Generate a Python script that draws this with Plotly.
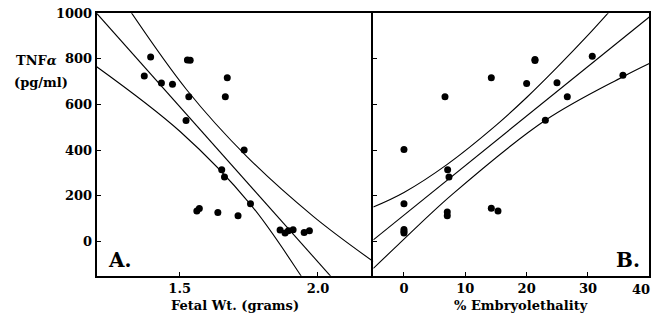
import plotly.graph_objects as go

# ---- Panel A data: fetal weight vs TNFa ----
fetal_wt = [1.372, 1.395, 1.434, 1.474, 1.528, 1.538, 1.533, 1.523, 1.672, 1.665,
            1.733, 1.652, 1.662, 1.756, 1.562, 1.571, 1.638, 1.711, 1.863, 1.881,
            1.893, 1.910, 1.950, 1.969]
tnf_a = [725, 809, 695, 689, 795, 794, 634, 530, 718, 634,
         401, 314, 283, 165, 134, 145, 127, 113, 50, 37,
         47, 51, 39, 47]

# regression line and 95% bands
mid_a_x = [1.2, 2.1]
mid_a_y = [1000, -226]
upper_a_x = [1.30, 1.526, 1.743, 1.984, 2.2]
upper_a_y = [1048, 664, 372, 109, -88]
lower_a_x = [1.2, 1.5015, 1.755, 1.936, 2.0]
lower_a_y = [766, 482, 164, -146, -270]

# ---- Panel B data: % embryolethality vs TNFa ----
embryoleth = [0, 0, 0, 0, 0, 6.69, 7.12, 7.34, 7.06, 7.06,
              14.24, 14.24, 15.33, 20.0, 21.36, 21.36, 23.05, 24.95, 26.63, 30.7, 35.7]
tnf_b = [403, 165, 52, 44, 37, 634, 314, 283, 129, 113,
         718, 146, 134, 692, 798, 793, 531, 696, 634, 812, 728]

mid_b_x = [-5, 40]
mid_b_y = [7, 984]
upper_b_x = [-5, 0, 7, 15, 20, 25, 30, 33.05, 36]
upper_b_y = [151, 215, 337, 509, 631, 764, 904, 994, 1084]
lower_b_x = [-5, -0.93, 7.78, 23.05, 35.7, 40]
lower_b_y = [-118, -14, 204, 531, 722, 780]

# ticks
y_ticks = [0, 200, 400, 600, 800, 1000]
xa_ticks = [1.5, 2.0]
xa_ticktext = ["1.5", "2.0"]
xb_ticks = [0, 10, 20, 30, 40]
xb_ticktext = ["0", "10", "20", "30", ""]
xb_end_text = "40"   # last tick label, drawn nudged inward as in the original

FONT = "DejaVu Serif"
W, H = 655, 322
LINE = dict(color="black", width=1.1)

fig = go.Figure()

# Panel A
fig.add_trace(go.Scatter(x=fetal_wt, y=tnf_a, mode="markers",
                         marker=dict(color="black", size=7), xaxis="x", yaxis="y"))
fig.add_trace(go.Scatter(x=mid_a_x, y=mid_a_y, mode="lines", line=LINE, xaxis="x", yaxis="y"))
fig.add_trace(go.Scatter(x=upper_a_x, y=upper_a_y, mode="lines",
                         line=dict(LINE, shape="spline"), xaxis="x", yaxis="y"))
fig.add_trace(go.Scatter(x=lower_a_x, y=lower_a_y, mode="lines",
                         line=dict(LINE, shape="spline"), xaxis="x", yaxis="y"))

# Panel B
fig.add_trace(go.Scatter(x=embryoleth, y=tnf_b, mode="markers",
                         marker=dict(color="black", size=7), xaxis="x2", yaxis="y2"))
fig.add_trace(go.Scatter(x=mid_b_x, y=mid_b_y, mode="lines", line=LINE, xaxis="x2", yaxis="y2"))
fig.add_trace(go.Scatter(x=upper_b_x, y=upper_b_y, mode="lines",
                         line=dict(LINE, shape="spline"), xaxis="x2", yaxis="y2"))
fig.add_trace(go.Scatter(x=lower_b_x, y=lower_b_y, mode="lines",
                         line=dict(LINE, shape="spline"), xaxis="x2", yaxis="y2"))

xa_dom = [96.7 / W, 373.3 / W]
xb_dom = [373.3 / W, 649.3 / W]
y_dom = [(H - 275.7) / H, (H - 13.3) / H]

tickfont = dict(family=FONT, size=13, color="black", weight="bold")
axis_common = dict(showline=True, linecolor="black", linewidth=2, mirror=True,
                   showgrid=False, zeroline=False, ticks="inside", ticklen=4,
                   tickwidth=1, tickcolor="black", tickfont=tickfont,
                   automargin=False)

fig.update_layout(
    width=W, height=H, margin=dict(l=0, r=0, t=0, b=0),
    paper_bgcolor="white", plot_bgcolor="white", showlegend=False,
    xaxis=dict(axis_common, domain=xa_dom, range=[1.2, 2.2], anchor="y",
               tickvals=xa_ticks, ticktext=xa_ticktext),
    yaxis=dict(axis_common, domain=y_dom, range=[-150, 1000], anchor="x",
               tickvals=y_ticks, mirror=False),
    xaxis2=dict(axis_common, domain=xb_dom, range=[-5, 40], anchor="y2",
                tickvals=xb_ticks, ticktext=xb_ticktext),
    yaxis2=dict(axis_common, domain=y_dom, range=[-150, 1000], anchor="x2",
                tickvals=y_ticks, showticklabels=False),
)

def ann(text, x, y, size, xanchor="center"):
    fig.add_annotation(text=text, x=x, y=y, xref="paper", yref="paper",
                       xanchor=xanchor, yanchor="middle", showarrow=False,
                       font=dict(family=FONT, size=size, color="black", weight="bold"))

ann("TNF<i>α</i>", 36 / W, (H - 60) / H, 13)
ann("(pg/ml)", 40.5 / W, (H - 82) / H, 13)
ann("A.", 106 / W, (H - 260) / H, 20, "left")
ann("B.", 642 / W, (H - 260) / H, 20, "right")
ann("Fetal Wt. (grams)", 235 / W, (H - 305) / H, 13)
ann("% Embryolethality", 521 / W, (H - 305) / H, 13)
ann(xb_end_text, 641 / W, (H - 289) / H, 13)

fig.write_html("out.html")
